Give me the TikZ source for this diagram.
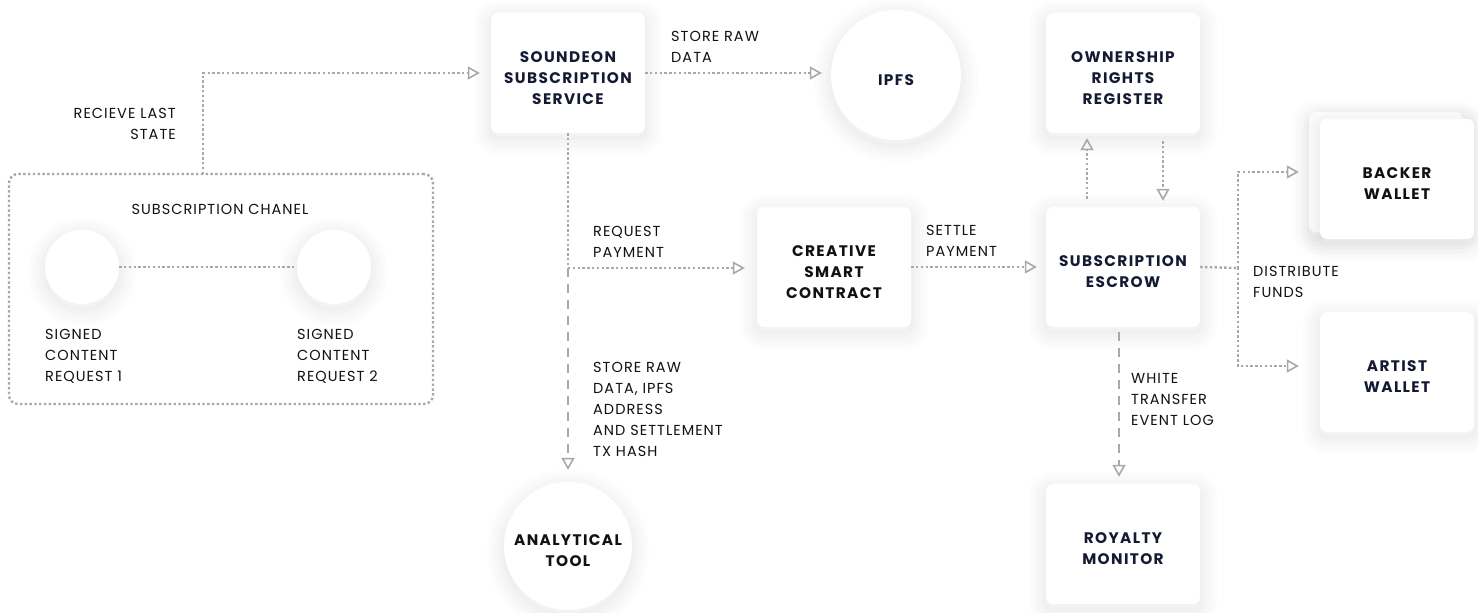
\documentclass[tikz,border=0pt]{standalone}
\usepackage{fontspec}
\setmainfont{Poppins}[LetterSpace=7]
\usetikzlibrary{arrows.meta}
\definecolor{navy}{HTML}{151A33}
\definecolor{ink}{HTML}{111111}
\definecolor{conn}{HTML}{A8A8A8}
\definecolor{shc}{HTML}{1A2040}
\newcommand\tp{\rule{0pt}{20.5pt}}
\tikzset{
  shl/.style={preaction={draw=shc, draw opacity=0.011, line width=#1, transform canvas={yshift=-5pt}}},
  sh/.style={shl=34pt, shl=26pt, shl=18pt, shl=10pt, shl=4pt},
  box/.style={rectangle, rounded corners=7pt, fill=white, minimum width=154pt, minimum height=120pt,
    align=center, font=\bfseries\fontsize{15.3}{21}\selectfont\addfontfeature{LetterSpace=9}, text=navy, inner sep=0pt, sh},
  circ/.style={circle, fill=white, align=center, font=\bfseries\fontsize{15.3}{21}\selectfont\addfontfeature{LetterSpace=9}, text=navy, inner sep=0pt, sh},
  lbl/.style={inner sep=0pt, align=left, anchor=north west, font=\fontsize{14.5}{21}\selectfont, text=ink},
  dotln/.style={draw=conn, line width=2.4pt, dash pattern=on 2.4pt off 2.4pt},
  dashln/.style={draw=conn, line width=2.6pt, dash pattern=on 9pt off 7pt},
  arr/.style={-{Triangle[open, length=12pt, width=13pt, line width=1.6pt]}},
  chanbox/.style={rectangle, rounded corners=9pt, draw=conn, line width=2.4pt, dash pattern=on 2.4pt off 2.4pt, minimum width=424pt, minimum height=230pt, inner sep=0pt}
}
\begin{document}
\begin{tikzpicture}[x=1pt,y=-1pt]
\useasboundingbox[fill=white] (0,0) rectangle (1478,613);
% nodes
\node[box] (ss) at (568,73) {\tp SOUNDEON\\SUBSCRIPTION\\SERVICE};
\node[circ, minimum size=130pt] (ipfs) at (896,75) {\tp IPFS};
\node[box] (own) at (1123,73) {\tp OWNERSHIP\\RIGHTS\\REGISTER};
\node[box, text=ink] (csc) at (834,267) {\tp CREATIVE\\SMART\\CONTRACT};
\node[box] (esc) at (1123,267) {\tp SUBSCRIPTION\\ESCROW};
\node[box] (bkb) at (1386,172) {};
\node[box, text=ink] (bk) at (1397,179) {\tp BACKER\\WALLET};
\node[box] (aw) at (1397,372) {\tp ARTIST\\WALLET};
\node[box] (rm) at (1123,544) {\tp ROYALTY\\MONITOR};
\node[circ, minimum size=128pt, text=ink] (at) at (568,546) {\tp ANALYTICAL\\TOOL};
\node[chanbox] (chan) at (221,289) {};
\node[circ, minimum size=74pt] (c1) at (82,267) {};
\node[circ, minimum size=74pt] (c2) at (334,267) {};
% labels
\node[lbl, anchor=north east, align=right] (l1) at (176,108) {RECIEVE LAST\\STATE};
\node[lbl] (l2) at (671,31) {STORE RAW\\DATA};
\node[lbl, anchor=north, align=center] (l3) at (220,204) {SUBSCRIPTION CHANEL};
\node[lbl] (l4) at (45,329) {SIGNED\\CONTENT\\REQUEST 1};
\node[lbl] (l5) at (297,329) {SIGNED\\CONTENT\\REQUEST 2};
\node[lbl] (l6) at (593,226) {REQUEST\\PAYMENT};
\node[lbl] (l7) at (593,362) {STORE RAW\\DATA, IPFS\\ADDRESS\\AND SETTLEMENT\\TX HASH};
\node[lbl] (l8) at (926,225) {SETTLE\\PAYMENT};
\node[lbl] (l9) at (1253,266) {DISTRIBUTE\\FUNDS};
\node[lbl] (l10) at (1131,373) {WHITE\\TRANSFER\\EVENT LOG};
% connectors
\coordinate (rls) at (203,174);
\coordinate (br) at (568,268);
\coordinate (dj) at (1238,268);
\draw[dotln] (c1) -- (c2);
\draw[dotln, arr, shorten >=11pt] (rls) |- (ss.west);
\draw[dotln, arr, shorten >=9pt] (ss.east) -- (ss.east -| ipfs.west);
\draw[dotln] (ss.south) -- (br);
\draw[dotln, arr, shorten >=12pt] (br) -- (br -| csc.west);
\draw[dashln, arr, shorten >=12pt] (br) -- (at.north);
\draw[dotln, arr, shorten >=9pt] (csc.east) -- (esc.west);
\draw[dotln, arr, shorten <=8pt, shorten >=5pt] ([xshift=-36pt]esc.north) -- ([xshift=-36pt]own.south);
\draw[dotln, arr, shorten <=8pt, shorten >=6pt] ([xshift=40pt]own.south) -- ([xshift=40pt]esc.north);
\draw[dotln] (esc.east) -- (dj);
\draw[dotln, arr, shorten >=10pt] (dj) |- (bkb.west);
\draw[dotln, arr, shorten >=21pt] (dj) |- ([yshift=6pt]aw.west);
\draw[dashln, arr, shorten <=5pt, shorten >=7pt] ([xshift=-4pt]esc.south) -- ([xshift=-4pt]rm.north);
\end{tikzpicture}
\end{document}
